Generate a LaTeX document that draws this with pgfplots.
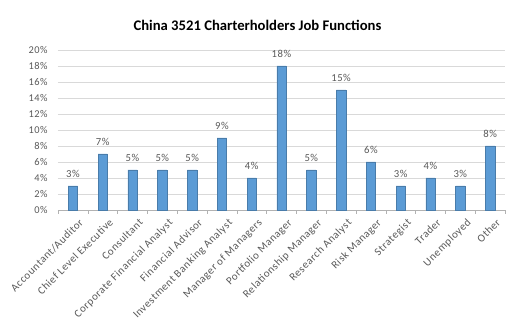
\documentclass[border=0pt]{standalone}
\usepackage{pgfplots}
\pgfplotsset{compat=1.18}
\usepackage{fontspec}
\setmainfont{Carlito}
\newfontfamily\lblfont[LetterSpace=5]{Carlito}
\definecolor{barblue}{HTML}{5B9BD5}
\definecolor{txtgray}{HTML}{595959}
\begin{document}
\begin{tikzpicture}[x=1pt,y=1pt]
\useasboundingbox (-43.5,-88.5) rectangle (342.75,157.5);
\begin{axis}[
  at={(0,0)}, anchor=south west,
  scale only axis, width=335.25pt, height=120pt,
  xmin=-0.5, xmax=14.5, ymin=0, ymax=20,
  ytick={0,2,...,20},
  yticklabel={\pgfmathprintnumber{\tick}\%},
  /pgf/number format/assume math mode=true,
  ymajorgrids, grid style={draw=black!15, line width=0.6pt},
  axis x line*=bottom, axis y line*=left,
  x axis line style={draw=black!30, line width=0.6pt},
  y axis line style={draw=none},
  xtick={0,...,14},
  xticklabels={Accountant/Auditor,Chief Level Executive,Consultant,Corporate Financial Analyst,Financial Advisor,Investment Banking Analyst,Manager of Managers,Portfolio Manager,Relationship Manager,Research Analyst,Risk Manager,Strategist,Trader,Unemployed,Other},
  x tick label style={rotate=45, anchor=north east, font=\lblfont\fontsize{8.2}{9}\selectfont, text=txtgray, inner sep=1pt, yshift=-3pt, xshift=3pt},
  y tick label style={font=\lblfont\fontsize{7.8}{8}\selectfont, text=txtgray},
  major x tick style={draw=none},
  minor xtick={-0.5,0.5,...,14.5},
  minor x tick style={draw=black!30},
  minor tick length=3pt,
  ytick style={draw=none},
  tick align=outside,
  ybar, bar width=7pt,
  nodes near coords={\pgfmathprintnumber{\pgfplotspointmeta}\%},
  every node near coord/.append style={font=\lblfont\fontsize{8}{8}\selectfont, text=txtgray, yshift=3pt},
  clip=false,
]
\addplot[fill=barblue, draw=barblue!80!black, line width=0.3pt] coordinates {
(0,3) (1,7) (2,5) (3,5) (4,5) (5,9) (6,4) (7,18) (8,5) (9,15) (10,6) (11,3) (12,4) (13,3) (14,8)};
\end{axis}
\node[font=\bfseries\fontsize{11}{13}\selectfont] at (149.6,138.75) {China 3521 Charterholders Job Functions};
\end{tikzpicture}
\end{document}
